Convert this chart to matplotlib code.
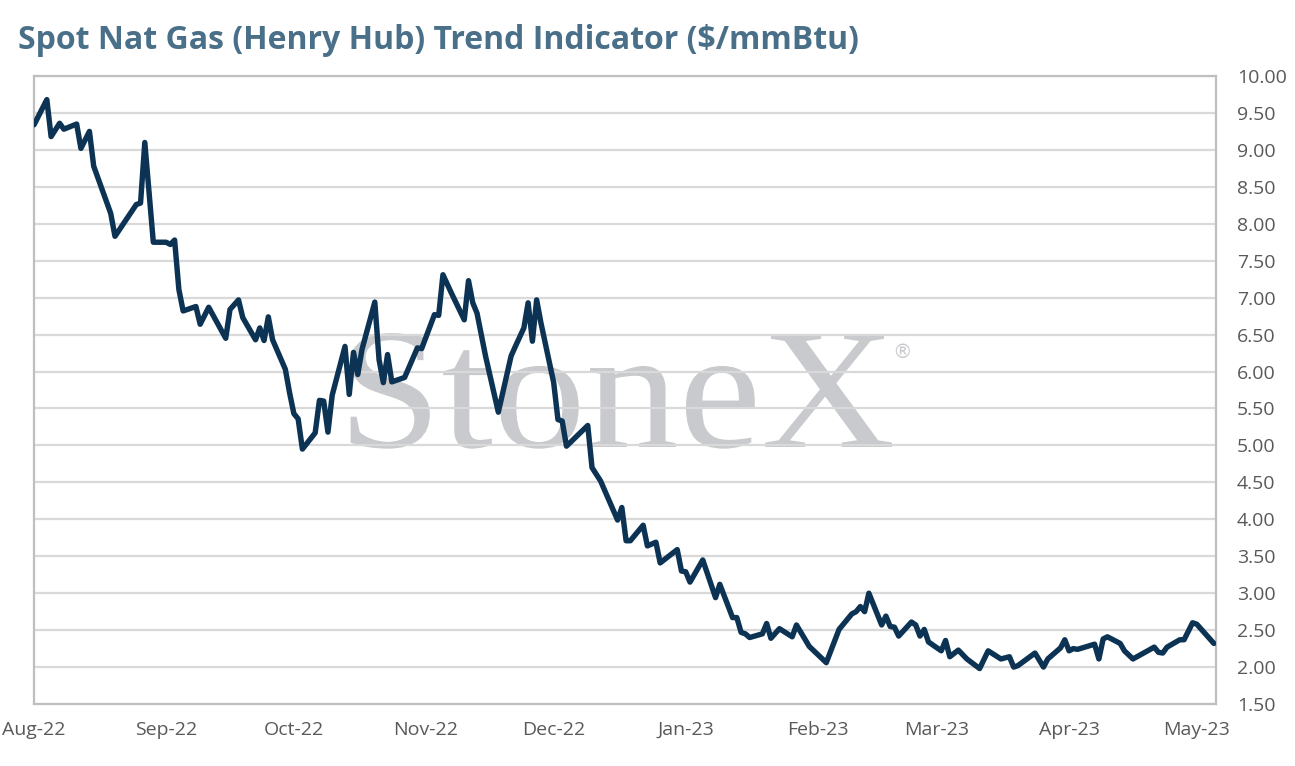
import pandas as pd
import numpy as np
import matplotlib
matplotlib.use("Agg")
import matplotlib.pyplot as plt
import matplotlib.dates as mdates
from matplotlib.textpath import TextPath
from matplotlib.patches import PathPatch
from matplotlib.font_manager import FontProperties
from matplotlib.transforms import Affine2D, IdentityTransform

# vertices of the Henry Hub trend line
# days counted from 1 Aug 2022, price in $/mmBtu
start = pd.Timestamp("2022-08-01")
days = [0, 3, 4, 6, 7, 10, 11, 13, 14, 18, 19, 24, 25, 26, 28, 31, 32, 33, 34, 35,
        38, 39, 41, 45, 46, 48, 49, 52, 53, 54, 55, 56, 59, 60, 61, 62, 63, 66, 67, 68,
        69, 70, 73, 74, 75, 76, 77, 80, 81, 82, 83, 84, 87, 90, 91, 94, 95, 96, 98, 101,
        102, 103, 104, 106, 109, 112, 113, 115, 116, 117, 118, 119, 122, 123, 124, 125, 130, 131, 133, 137,
        138, 139, 140, 143, 144, 146, 147, 151, 152, 153, 154, 157, 160, 161, 164, 165, 166, 167, 168, 171,
        172, 173, 175, 178, 179, 182, 186, 189, 192, 193, 194, 195, 196, 199, 200, 201, 202, 203, 206, 207,
        208, 209, 210, 213, 214, 215, 217, 219, 222, 224, 227, 229, 230, 231, 235, 237, 238, 241, 242, 243,
        244, 245, 249, 250, 251, 252, 255, 256, 258, 263, 264, 265, 266, 269, 270, 272, 273, 277]
price = [9.34, 9.68, 9.18, 9.36, 9.28, 9.35, 9.02, 9.25, 8.78, 8.14, 7.83, 8.26, 8.28, 9.10, 7.75, 7.75, 7.72, 7.78, 7.11, 6.82,
         6.88, 6.64, 6.87, 6.45, 6.84, 6.97, 6.73, 6.43, 6.59, 6.42, 6.74, 6.43, 6.03, 5.71, 5.43, 5.36, 4.95, 5.17, 5.61, 5.60,
         5.18, 5.68, 6.34, 5.69, 6.26, 5.96, 6.30, 6.94, 6.16, 5.85, 6.23, 5.86, 5.92, 6.32, 6.31, 6.77, 6.76, 7.31, 7.06, 6.70,
         7.23, 6.93, 6.79, 6.21, 5.45, 6.21, 6.34, 6.59, 6.93, 6.41, 6.97, 6.66, 5.85, 5.35, 5.33, 4.99, 5.27, 4.70, 4.52, 3.99,
         4.16, 3.71, 3.71, 3.92, 3.64, 3.69, 3.41, 3.59, 3.30, 3.29, 3.15, 3.45, 2.94, 3.12, 2.67, 2.67, 2.47, 2.45, 2.40, 2.45,
         2.59, 2.39, 2.52, 2.41, 2.57, 2.28, 2.06, 2.51, 2.72, 2.75, 2.82, 2.75, 3.00, 2.57, 2.69, 2.55, 2.54, 2.42, 2.61, 2.57,
         2.42, 2.51, 2.34, 2.22, 2.36, 2.14, 2.23, 2.11, 1.98, 2.22, 2.11, 2.14, 2.00, 2.02, 2.19, 2.00, 2.11, 2.26, 2.37, 2.22,
         2.25, 2.24, 2.31, 2.11, 2.38, 2.41, 2.32, 2.22, 2.11, 2.27, 2.20, 2.19, 2.27, 2.37, 2.37, 2.60, 2.58, 2.32]

dates = start + pd.to_timedelta(days, unit="D")
y_ticks = np.arange(1.5, 10.01, 0.5)

plt.rcParams['font.family'] = ['Open Sans', 'DejaVu Sans']

fig = plt.figure(figsize=(12.95, 7.66), dpi=100)
ax = fig.add_axes([0.0263, 0.0809, 0.9127, 0.8199])

# watermark, drawn as a path so it can be widened a little
tp = TextPath((0, 0), "StoneX", size=172, prop=FontProperties(family="Liberation Serif"))
wm = PathPatch(tp, facecolor="#c9cacd", edgecolor="none", zorder=0,
               transform=Affine2D().scale(1.08, 1.0).translate(338, 766 - 447) + IdentityTransform())
ax.add_artist(wm)
ax.text(0.734, 0.5605, "®", transform=ax.transAxes, family="DejaVu Sans",
        fontsize=14, color="#c9cacd", ha="center", va="center", zorder=0)

ax.plot(dates, price, color="#0c3354", lw=3.9, solid_joinstyle="round",
        solid_capstyle="round", zorder=3)

ax.set_ylim(1.5, 10.0)
ax.set_xlim(start, start + pd.Timedelta(days=277.5))
ax.set_yticks(y_ticks)
ax.yaxis.set_major_formatter(plt.FuncFormatter(lambda v, p: f"{v:.2f}"))
ax.yaxis.tick_right()
ax.xaxis.set_major_locator(mdates.MonthLocator())
ax.xaxis.set_major_formatter(mdates.DateFormatter("%b-%y"))
ax.tick_params(axis="y", length=0, pad=15, labelsize=14, labelcolor="#595959")
ax.tick_params(axis="x", length=0, pad=12, labelsize=14, labelcolor="#595959")

ax.yaxis.grid(True, color="#d9d9d9", lw=1.6, zorder=1)
ax.set_axisbelow(True)
for s in ax.spines.values():
    s.set_color("#bfbfbf")
    s.set_linewidth(1.6)

fig.text(0.014, 0.947, "Spot Nat Gas (Henry Hub) Trend Indicator ($/mmBtu)",
         fontsize=23, fontweight="bold", color="#4a6f89", ha="left", va="center")

fig.savefig("out.png", dpi=100)
